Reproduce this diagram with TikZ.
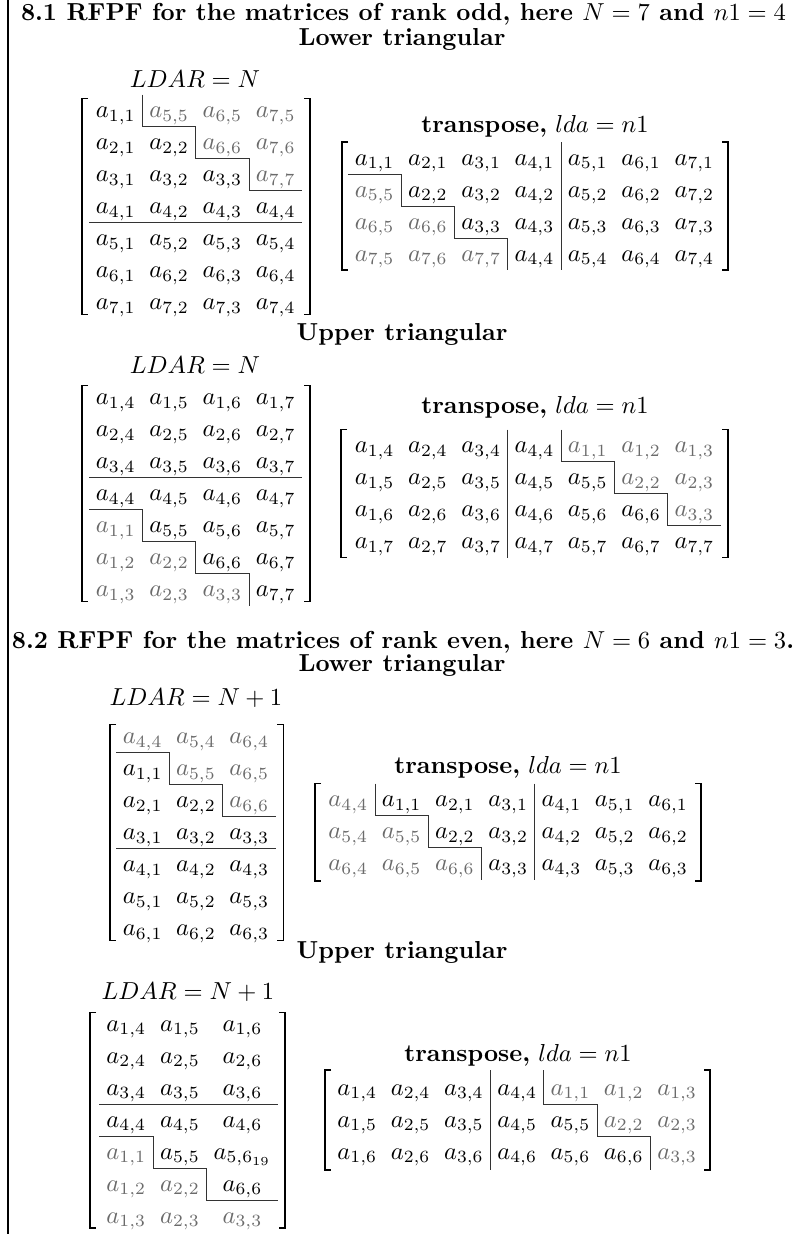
\documentclass[tikz,border=0pt]{standalone}
\usepackage{amsmath}
\definecolor{cG}{gray}{0.42}
\definecolor{cK}{gray}{0}
\definecolor{rulegray}{gray}{0.2}
\tikzset{
  ent/.style={anchor=base, inner sep=0pt},
  hd/.style={anchor=base, inner sep=0pt, font=\bfseries},
  rl/.style={draw=rulegray, line width=0.4pt},
  brk/.style={draw=black, line width=0.6pt},
}
% row of uniformly spaced entries: name, row, baseline y, x0, dx, list colour/text
\newcommand\mrow[6]{%
  \foreach \cl/\tx [count=\c] in {#6}{%
    \pgfmathsetmacro\xx{#4+(\c-1)*#5}%
    \node[ent, text=\cl] (#1-#2-\c) at (\xx,#3) {$\tx$};}}
% row with explicit x: name, row, baseline y, list x/colour/text
\newcommand\mrowx[4]{%
  \foreach \xx/\cl/\tx [count=\c] in {#4}{%
    \node[ent, text=\cl] (#1-#2-\c) at (\xx,#3) {$\tx$};}}
% brackets: x left, x right, y top, y bottom
\newcommand\brk[4]{%
  \draw[brk] ({#1+6},#3) -- (#1,#3) -- (#1,#4) -- ({#1+6},#4);
  \draw[brk] ({#2-6},#3) -- (#2,#3) -- (#2,#4) -- ({#2-6},#4);}
\begin{document}
\begin{tikzpicture}[x=0.407pt,y=-0.407pt]
\useasboundingbox (0,0) rectangle (795,1234);
\draw[line width=0.5pt] (8,0) -- (8,1234);

% ---------------- Section 8.1 ----------------
\node[hd] (t1) at (403.5,20.5) {8.1 RFPF for the matrices of rank odd, here $N=7$ and $n1=4$};
\node[hd] (lo1) at (402,45) {Lower triangular};
\node[ent] (ld1) at (195,87.5) {$LDAR=N$};
\node[ent] (tr1) at (535,132) {\textbf{transpose,} $lda=n1$};

% M1
\mrow{M1}{1}{117.7}{115.8}{53.3}{cK/a_{1,1},cG/a_{5,5},cG/a_{6,5},cG/a_{7,5}}
\mrow{M1}{2}{149.7}{115.8}{53.3}{cK/a_{2,1},cK/a_{2,2},cG/a_{6,6},cG/a_{7,6}}
\mrow{M1}{3}{181.7}{115.8}{53.3}{cK/a_{3,1},cK/a_{3,2},cK/a_{3,3},cG/a_{7,7}}
\mrow{M1}{4}{213.7}{115.8}{53.3}{cK/a_{4,1},cK/a_{4,2},cK/a_{4,3},cK/a_{4,4}}
\mrow{M1}{5}{245.7}{115.8}{53.3}{cK/a_{5,1},cK/a_{5,2},cK/a_{5,3},cK/a_{5,4}}
\mrow{M1}{6}{277.7}{115.8}{53.3}{cK/a_{6,1},cK/a_{6,2},cK/a_{6,3},cK/a_{6,4}}
\mrow{M1}{7}{309.7}{115.8}{53.3}{cK/a_{7,1},cK/a_{7,2},cK/a_{7,3},cK/a_{7,4}}
\draw[rl] (142.5,94.7) -- (142.5,126.7) -- (195.8,126.7) -- (195.8,158.7) -- (249.1,158.7) -- (249.1,190.7) -- (302.4,190.7);
\draw[rl] (89.2,222.7) -- (302.4,222.7);
\brk{82}{310}{98.5}{314.5}

% M2
\mrow{M2}{1}{165}{374.6}{53.3}{cK/a_{1,1},cK/a_{2,1},cK/a_{3,1},cK/a_{4,1},cK/a_{5,1},cK/a_{6,1},cK/a_{7,1}}
\mrow{M2}{2}{197}{374.6}{53.3}{cG/a_{5,5},cK/a_{2,2},cK/a_{3,2},cK/a_{4,2},cK/a_{5,2},cK/a_{6,2},cK/a_{7,2}}
\mrow{M2}{3}{229}{374.6}{53.3}{cG/a_{6,5},cG/a_{6,6},cK/a_{3,3},cK/a_{4,3},cK/a_{5,3},cK/a_{6,3},cK/a_{7,3}}
\mrow{M2}{4}{261}{374.6}{53.3}{cG/a_{7,5},cG/a_{7,6},cG/a_{7,7},cK/a_{4,4},cK/a_{5,4},cK/a_{6,4},cK/a_{7,4}}
\draw[rl] (348,174) -- (401.3,174) -- (401.3,206) -- (454.6,206) -- (454.6,238) -- (507.9,238) -- (507.9,270);
\draw[rl] (561.2,142) -- (561.2,270);
\brk{342}{728}{142}{270}

\node[hd] (up1) at (402,340) {Upper triangular};
\node[ent] (ld2) at (195,373) {$LDAR=N$};
\node[ent] (tr2) at (535,413) {\textbf{transpose,} $lda=n1$};

% M3
\mrow{M3}{1}{404.5}{115.8}{53.3}{cK/a_{1,4},cK/a_{1,5},cK/a_{1,6},cK/a_{1,7}}
\mrow{M3}{2}{436.5}{115.8}{53.3}{cK/a_{2,4},cK/a_{2,5},cK/a_{2,6},cK/a_{2,7}}
\mrow{M3}{3}{468.5}{115.8}{53.3}{cK/a_{3,4},cK/a_{3,5},cK/a_{3,6},cK/a_{3,7}}
\mrow{M3}{4}{500.5}{115.8}{53.3}{cK/a_{4,4},cK/a_{4,5},cK/a_{4,6},cK/a_{4,7}}
\mrow{M3}{5}{532.5}{115.8}{53.3}{cG/a_{1,1},cK/a_{5,5},cK/a_{5,6},cK/a_{5,7}}
\mrow{M3}{6}{564.5}{115.8}{53.3}{cG/a_{1,2},cG/a_{2,2},cK/a_{6,6},cK/a_{6,7}}
\mrow{M3}{7}{596.5}{115.8}{53.3}{cG/a_{1,3},cG/a_{2,3},cG/a_{3,3},cK/a_{7,7}}
\draw[rl] (89.2,477.5) -- (302.4,477.5);
\draw[rl] (89.2,509.5) -- (142.5,509.5) -- (142.5,541.5) -- (195.8,541.5) -- (195.8,573.5) -- (249.1,573.5) -- (249.1,605.5);
\brk{82}{310}{385.5}{601.5}

% M4
\mrow{M4}{1}{452.7}{374.6}{53.3}{cK/a_{1,4},cK/a_{2,4},cK/a_{3,4},cK/a_{4,4},cG/a_{1,1},cG/a_{1,2},cG/a_{1,3}}
\mrow{M4}{2}{484.7}{374.6}{53.3}{cK/a_{1,5},cK/a_{2,5},cK/a_{3,5},cK/a_{4,5},cK/a_{5,5},cG/a_{2,2},cG/a_{2,3}}
\mrow{M4}{3}{516.7}{374.6}{53.3}{cK/a_{1,6},cK/a_{2,6},cK/a_{3,6},cK/a_{4,6},cK/a_{5,6},cK/a_{6,6},cG/a_{3,3}}
\mrow{M4}{4}{548.7}{374.6}{53.3}{cK/a_{1,7},cK/a_{2,7},cK/a_{3,7},cK/a_{4,7},cK/a_{5,7},cK/a_{6,7},cK/a_{7,7}}
\draw[rl] (507.9,429.7) -- (507.9,557.7);
\draw[rl] (561.2,429.7) -- (561.2,461.7) -- (614.5,461.7) -- (614.5,493.7) -- (667.8,493.7) -- (667.8,525.7) -- (721.1,525.7);
\brk{341}{728}{429.7}{557.7}

% ---------------- Section 8.2 ----------------
\node[hd] (t2) at (403,648) {8.2 RFPF for the matrices of rank even, here $N=6$ and $n1=3$.};
\node[hd] (lo2) at (402,671) {Lower triangular};
\node[ent] (ld3) at (196,705) {$LDAR=N+1$};
\node[ent] (tr3) at (508,773) {\textbf{transpose,} $lda=n1$};

% M5
\mrow{M5}{1}{743.7}{142.7}{53.3}{cG/a_{4,4},cG/a_{5,4},cG/a_{6,4}}
\mrow{M5}{2}{775.7}{142.7}{53.3}{cK/a_{1,1},cG/a_{5,5},cG/a_{6,5}}
\mrow{M5}{3}{807.7}{142.7}{53.3}{cK/a_{2,1},cK/a_{2,2},cG/a_{6,6}}
\mrow{M5}{4}{839.7}{142.7}{53.3}{cK/a_{3,1},cK/a_{3,2},cK/a_{3,3}}
\mrow{M5}{5}{871.7}{142.7}{53.3}{cK/a_{4,1},cK/a_{4,2},cK/a_{4,3}}
\mrow{M5}{6}{903.7}{142.7}{53.3}{cK/a_{5,1},cK/a_{5,2},cK/a_{5,3}}
\mrow{M5}{7}{935.7}{142.7}{53.3}{cK/a_{6,1},cK/a_{6,2},cK/a_{6,3}}
\draw[rl] (116,752.7) -- (169.3,752.7) -- (169.3,784.7) -- (222.6,784.7) -- (222.6,816.7) -- (275.9,816.7);
\draw[rl] (116,848.7) -- (275.9,848.7);
\brk{110}{283.3}{724.7}{940.7}

% M6
\mrow{M6}{1}{806.5}{348.3}{53.3}{cG/a_{4,4},cK/a_{1,1},cK/a_{2,1},cK/a_{3,1},cK/a_{4,1},cK/a_{5,1},cK/a_{6,1}}
\mrow{M6}{2}{838.5}{348.3}{53.3}{cG/a_{5,4},cG/a_{5,5},cK/a_{2,2},cK/a_{3,2},cK/a_{4,2},cK/a_{5,2},cK/a_{6,2}}
\mrow{M6}{3}{870.5}{348.3}{53.3}{cG/a_{6,4},cG/a_{6,5},cG/a_{6,6},cK/a_{3,3},cK/a_{4,3},cK/a_{5,3},cK/a_{6,3}}
\draw[rl] (375,783.5) -- (375,815.5) -- (428.3,815.5) -- (428.3,847.5) -- (481.6,847.5) -- (481.6,879.5);
\draw[rl] (534.9,783.5) -- (534.9,879.5);
\brk{315}{701}{783.5}{881}

\node[hd] (up2) at (402,958) {Upper triangular};
\node[ent] (ld4) at (188,999) {$LDAR=N+1$};
\node[ent] (tr4) at (518,1061) {\textbf{transpose,} $lda=n1$};

% M7
\mrowx{M7}{1}{1031}{126.3/cK/a_{1,4},180/cK/a_{1,5},242.5/cK/a_{1,6}}
\mrowx{M7}{2}{1063}{126.3/cK/a_{2,4},180/cK/a_{2,5},242.5/cK/a_{2,6}}
\mrowx{M7}{3}{1095}{126.3/cK/a_{3,4},180/cK/a_{3,5},242.5/cK/a_{3,6}}
\mrowx{M7}{4}{1127}{126.3/cK/a_{4,4},180/cK/a_{4,5},242.5/cK/a_{4,6}}
\mrowx{M7}{5}{1159}{126.3/cG/a_{1,1},180/cK/a_{5,5},242.5/cK/a_{5,6_{19}}}
\mrowx{M7}{6}{1191}{126.3/cG/a_{1,2},180/cG/a_{2,2},242.5/cK/a_{6,6}}
\mrowx{M7}{7}{1223}{126.3/cG/a_{1,3},180/cG/a_{2,3},242.5/cG/a_{3,3}}
\draw[rl] (99.3,1104) -- (278.3,1104);
\draw[rl] (99.3,1136.5) -- (153.3,1136.5) -- (153.3,1168.3) -- (206.7,1168.3) -- (206.7,1200) -- (278.3,1200);
\brk{90}{285}{1012.5}{1228}

% M8
\mrow{M8}{1}{1095}{357.3}{53.3}{cK/a_{1,4},cK/a_{2,4},cK/a_{3,4},cK/a_{4,4},cG/a_{1,1},cG/a_{1,2},cG/a_{1,3}}
\mrow{M8}{2}{1127}{357.3}{53.3}{cK/a_{1,5},cK/a_{2,5},cK/a_{3,5},cK/a_{4,5},cK/a_{5,5},cG/a_{2,2},cG/a_{2,3}}
\mrow{M8}{3}{1159}{357.3}{53.3}{cK/a_{1,6},cK/a_{2,6},cK/a_{3,6},cK/a_{4,6},cK/a_{5,6},cK/a_{6,6},cG/a_{3,3}}
\draw[rl] (490.6,1070) -- (490.6,1170);
\draw[rl] (543.9,1070) -- (543.9,1104) -- (597.2,1104) -- (597.2,1136) -- (650.5,1136) -- (650.5,1170);
\brk{325}{710}{1070}{1170}
\end{tikzpicture}
\end{document}
